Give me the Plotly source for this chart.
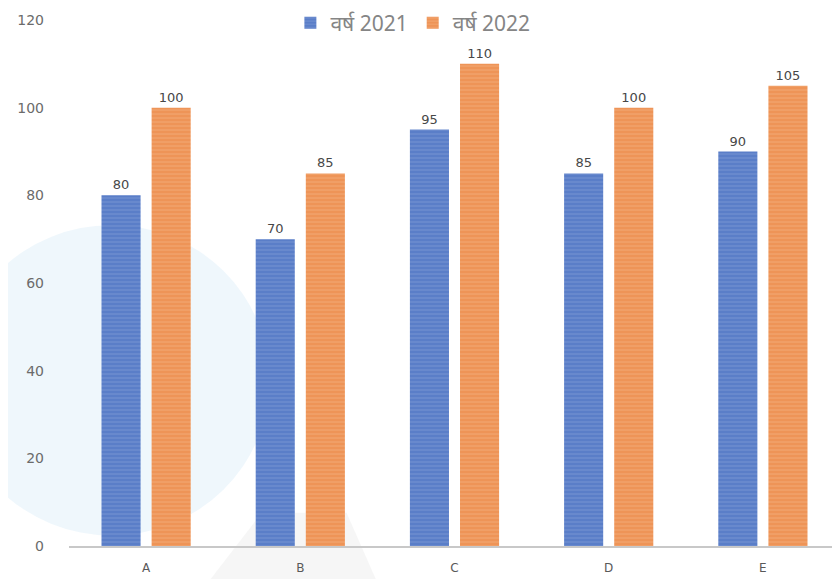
import plotly.graph_objects as go

categories = ["A", "B", "C", "D", "E"]
values_2021 = [80, 70, 95, 85, 90]
values_2022 = [100, 85, 110, 100, 105]
series_names = ["वर्ष 2021", "वर्ष 2022"]
y_ticks = [0, 20, 40, 60, 80, 100, 120]

label_font = dict(family="DejaVu Sans", size=13, color="#474747")

fig = go.Figure()
fig.add_trace(go.Bar(
    x=categories, y=values_2021, name=series_names[0],
    marker=dict(color="#5a7ec8", line=dict(width=0),
                pattern=dict(shape="-", fgcolor="#87a2d9", size=4, solidity=0.3)),
    text=values_2021, textposition="outside", textfont=label_font,
    cliponaxis=False,
))
fig.add_trace(go.Bar(
    x=categories, y=values_2022, name=series_names[1],
    marker=dict(color="#ee9457", line=dict(width=0),
                pattern=dict(shape="-", fgcolor="#f5b689", size=4, solidity=0.3)),
    text=values_2022, textposition="outside", textfont=label_font,
    cliponaxis=False,
))

fig.update_layout(
    width=840, height=579,
    margin=dict(l=61, r=8, t=12, b=41, autoexpand=False),
    paper_bgcolor="white", plot_bgcolor="rgba(0,0,0,0)",
    barmode="group", bargap=0.35, bargroupgap=0.22,
    font=dict(family="Noto Sans, Open Sans", color="#595959"),
    uniformtext=dict(minsize=13, mode="show"),
    legend=dict(orientation="h", xref="container", yref="container",
                x=0.482, xanchor="center", y=0.974, yanchor="middle",
                font=dict(size=21, color="#858585"), bgcolor="rgba(0,0,0,0)",
                traceorder="normal", itemwidth=30),
    showlegend=True,
    xaxis=dict(showline=True, linecolor="#c8c8c8", linewidth=2, ticks="",
               tickfont=dict(family="DejaVu Sans", size=12, color="#595959"),
               showgrid=False, automargin=False, ticklabelstandoff=10),
    yaxis=dict(range=[0, 120], tickvals=y_ticks, showgrid=False, zeroline=False,
               showline=False,
               tickfont=dict(family="DejaVu Sans", size=14, color="#6b6b6b"),
               ticklabelstandoff=24, automargin=False),
    shapes=[
        dict(type="circle", xref="paper", yref="paper", x0=-0.15, x1=0.26, y0=0.02, y1=0.61,
             fillcolor="rgba(220,238,248,0.45)", line=dict(width=0), layer="below"),
        dict(type="path", xref="paper", yref="paper",
             path="M 0.18 -0.07 L 0.40 -0.07 L 0.36 0.063 L 0.25 0.063 Z",
             fillcolor="rgba(205,205,205,0.18)", line=dict(width=0), layer="below"),
    ],
)

fig.write_html("out.html")
